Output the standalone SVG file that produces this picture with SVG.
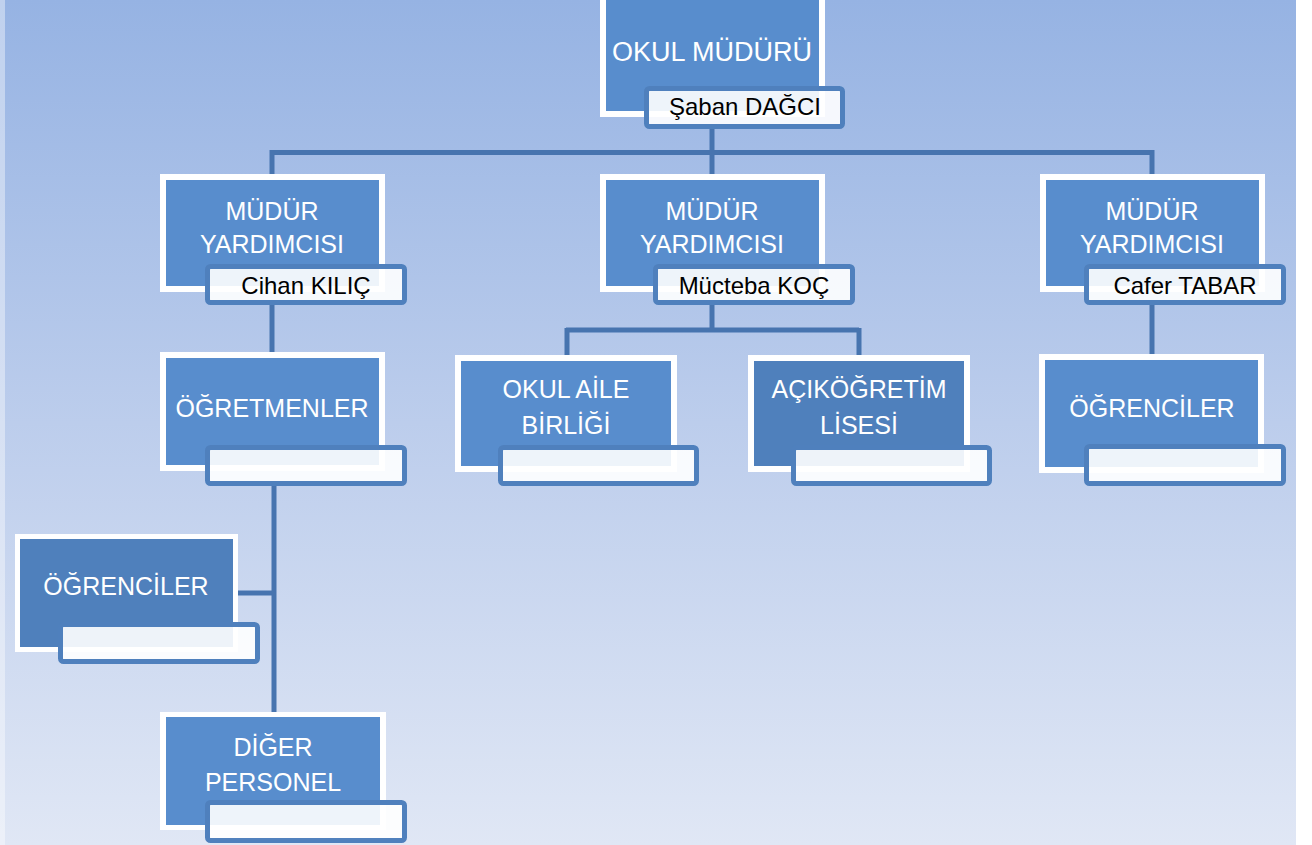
<svg xmlns="http://www.w3.org/2000/svg" width="1312" height="845" viewBox="0 0 1312 845">
<defs>
<linearGradient id="bg" x1="0" y1="0" x2="0" y2="1">
<stop offset="0" stop-color="#96b3e3"/>
<stop offset="0.5" stop-color="#bccdec"/>
<stop offset="1" stop-color="#e0e7f5"/>
</linearGradient>
<style>
.frame{fill:#ffffff}
.blue{fill:#588dcd}
.dark{fill:#4f80bc}
.name{fill:#ffffff;fill-opacity:0.9;stroke:#4f80bd;stroke-width:5}
.t{font-family:"Liberation Sans",Arial,sans-serif;font-size:25px;fill:#ffffff;text-anchor:middle}
.t.big{font-size:27px}
.n{font-family:"Liberation Sans",Arial,sans-serif;font-size:24px;fill:#000000;text-anchor:middle}
.c{fill:none;stroke:#4774af;stroke-width:5}
</style>
</defs>
<rect x="0" y="0" width="1312" height="845" fill="#ffffff"/>
<rect x="0" y="0" width="1296" height="845" fill="url(#bg)"/>
<rect x="0" y="0" width="5" height="845" fill="#ffffff" fill-opacity="0.4"/>

<g id="connectors">
<path class="c" d="M712,129 V152.5 M272,152.5 H1153 M272,150 V174 M712,150 V174 M1152,150 V174"/>
<path class="c" d="M272,304 V355"/>
<path class="c" d="M712,304 V330 M566,330 H859 M567,328 V355 M859,328 V355"/>
<path class="c" d="M1152,304 V355"/>
<path class="c" d="M274,485 V712 M238,593 H276"/>
</g>

<g id="okul-muduru">
<rect class="frame" x="600" y="-5" width="225" height="122"/>
<rect class="blue" x="606" y="0" width="213" height="111"/>
<text class="t big" x="712" y="61">OKUL MÜDÜRÜ</text>
<rect class="name" x="646.5" y="88.5" width="196" height="38" rx="3"/>
<text class="n" x="745" y="115">Şaban DAĞCI</text>
</g>

<g id="mudur-yard-1">
<rect class="frame" x="160" y="174" width="225" height="118"/>
<rect class="blue" x="166" y="180" width="213" height="106"/>
<text class="t" x="272" y="220">MÜDÜR</text>
<text class="t" x="272" y="253">YARDIMCISI</text>
<rect class="name" x="207.5" y="266.5" width="197" height="36" rx="3"/>
<text class="n" x="306" y="294">Cihan KILIÇ</text>
</g>

<g id="mudur-yard-2">
<rect class="frame" x="600" y="174" width="225" height="118"/>
<rect class="blue" x="606" y="180" width="213" height="106"/>
<text class="t" x="712" y="220">MÜDÜR</text>
<text class="t" x="712" y="253">YARDIMCISI</text>
<rect class="name" x="655.5" y="266.5" width="197" height="36" rx="3"/>
<text class="n" x="754" y="294">Mücteba KOÇ</text>
</g>

<g id="mudur-yard-3">
<rect class="frame" x="1040" y="174" width="225" height="118"/>
<rect class="blue" x="1046" y="180" width="213" height="106"/>
<text class="t" x="1152" y="220">MÜDÜR</text>
<text class="t" x="1152" y="253">YARDIMCISI</text>
<rect class="name" x="1086.5" y="266.5" width="197" height="36" rx="3"/>
<text class="n" x="1185" y="294">Cafer TABAR</text>
</g>

<g id="ogretmenler">
<rect class="frame" x="160" y="352" width="225" height="119"/>
<rect class="blue" x="166" y="358" width="213" height="107"/>
<text class="t" x="272" y="417">ÖĞRETMENLER</text>
<rect class="name" x="207.5" y="447.5" width="197" height="36" rx="3"/>
</g>

<g id="okul-aile-birligi">
<rect class="frame" x="455" y="355" width="222" height="117"/>
<rect class="blue" x="461" y="361" width="210" height="105"/>
<text class="t" x="566" y="398">OKUL AİLE</text>
<text class="t" x="566" y="434">BİRLİĞİ</text>
<rect class="name" x="500.5" y="447.5" width="196" height="36" rx="3"/>
</g>

<g id="acikogretim-lisesi">
<rect class="frame" x="748" y="355" width="222" height="117"/>
<rect class="dark" x="754" y="361" width="210" height="105"/>
<text class="t" x="859" y="398">AÇIKÖĞRETİM</text>
<text class="t" x="859" y="434">LİSESİ</text>
<rect class="name" x="793.5" y="447.5" width="196" height="36" rx="3"/>
</g>

<g id="ogrenciler-sag">
<rect class="frame" x="1039" y="354" width="225" height="119"/>
<rect class="blue" x="1045" y="360" width="213" height="107"/>
<text class="t" x="1152" y="417">ÖĞRENCİLER</text>
<rect class="name" x="1086.5" y="446.5" width="197" height="37" rx="3"/>
</g>

<g id="ogrenciler-sol">
<rect class="frame" x="15" y="534" width="223" height="118"/>
<rect class="dark" x="20" y="539" width="213" height="108"/>
<text class="t" x="126" y="595">ÖĞRENCİLER</text>
<rect class="name" x="60.5" y="624.5" width="197" height="37" rx="3"/>
</g>

<g id="diger-personel">
<rect class="frame" x="160" y="712" width="226" height="118"/>
<rect class="blue" x="166" y="717" width="214" height="108"/>
<text class="t" x="273" y="756">DİĞER</text>
<text class="t" x="273" y="791">PERSONEL</text>
<rect class="name" x="207.5" y="802.5" width="197" height="38" rx="3"/>
</g>
</svg>
